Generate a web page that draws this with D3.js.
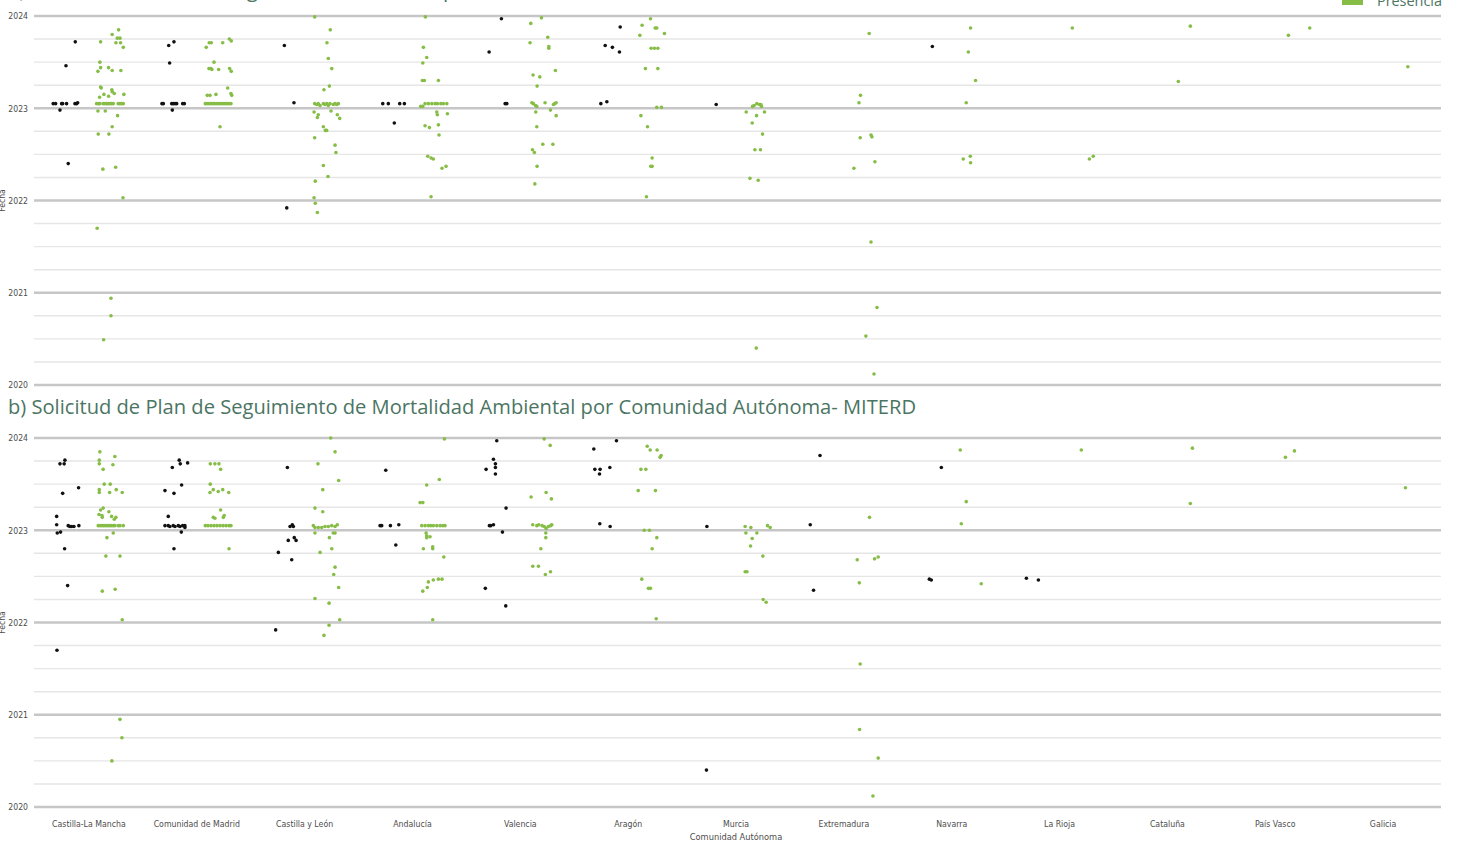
<!DOCTYPE html>
<html>
<head>
<meta charset="utf-8">
<script src="https://cdn.jsdelivr.net/npm/d3@7"></script>
<style>
  body { margin: 0; background: #fff; overflow: hidden; }
  svg { display: block; }
</style>
</head>
<body>
<div id="chart"></div>
<script>
const categories = ["Castilla-La Mancha", "Comunidad de Madrid", "Castilla y León", "Andalucía", "Valencia",
    "Aragón", "Murcia", "Extremadura", "Navarra", "La Rioja", "Cataluña", "País Vasco", "Galicia"]
const grupos = ["Ausencia", "Presencia"]
const yearTicks = [2020, 2021, 2022, 2023, 2024]
const titleA = "a) Solicitud de Plan de Seguimiento de Fauna por Comunidad Autónoma- MITERD"
const titleB = "b) Solicitud de Plan de Seguimiento de Mortalidad Ambiental por Comunidad Autónoma- MITERD"

// [categoría, fecha (año decimal), jitter -1..1]
const a_ausencia = [
    [0,2023.72,0.53],[0,2023.46,-0.09],[0,2023.05,-0.94],[0,2023.05,-0.78],[0,2023.05,-0.38],[0,2023.05,-0.31],
    [0,2023.05,-0.05],[0,2023.05,0.51],[0,2023.05,0.62],[0,2023.06,0.69],[0,2022.98,-0.49],[0,2022.40,0.06],
    [1,2023.68,-0.43],[1,2023.72,-0.08],[1,2023.49,-0.37],[1,2023.05,-0.88],[1,2023.05,-0.79],[1,2023.05,-0.23],
    [1,2023.05,-0.13],[1,2023.05,-0.01],[1,2023.05,0.10],[1,2023.05,0.50],[1,2023.05,0.61],[1,2022.98,-0.19],
    [2,2023.68,0.09],[2,2023.06,0.73],[2,2021.92,0.25],
    [3,2023.05,-0.54],[3,2023.05,-0.17],[3,2023.05,0.59],[3,2023.05,0.90],[3,2022.84,0.23],
    [4,2023.97,0.18],[4,2023.61,-0.64],[4,2023.05,0.43],[4,2023.05,0.54],
    [5,2023.88,0.91],[5,2023.68,-0.09],[5,2023.66,0.39],[5,2023.61,0.86],[5,2023.05,-0.38],[5,2023.07,0.02],
    [6,2023.04,0.12],
    [8,2023.67,0.15]
]
const a_presencia = [
    [0,2023.80,0.11],[0,2023.85,0.54],[0,2023.76,0.45],[0,2023.76,0.63],[0,2023.72,-0.66],[0,2023.71,0.36],
    [0,2023.71,0.67],[0,2023.66,0.85],[0,2023.50,-0.71],[0,2023.44,-0.66],[0,2023.40,-0.84],[0,2023.44,-0.13],
    [0,2023.41,0.11],[0,2023.41,0.69],[0,2023.23,-0.66],[0,2023.22,-0.62],[0,2023.12,-0.73],[0,2023.15,-0.44],
    [0,2023.13,-0.13],[0,2023.20,0.09],[0,2023.18,0.11],[0,2023.16,0.25],[0,2023.15,0.89],
    [0,2023.05,-0.93],[0,2023.05,-0.79],[0,2023.05,-0.71],[0,2023.05,-0.49],[0,2023.05,-0.37],[0,2023.05,-0.26],
    [0,2023.05,-0.15],[0,2023.05,-0.04],[0,2023.05,0.07],[0,2023.05,0.18],[0,2023.05,0.51],[0,2023.05,0.63],
    [0,2023.05,0.74],[0,2023.05,0.85],
    [0,2022.97,-0.84],[0,2022.97,-0.35],[0,2022.92,0.47],[0,2022.80,0.11],[0,2022.72,-0.82],[0,2022.72,-0.11],
    [0,2022.34,-0.51],[0,2022.36,0.34],[0,2022.03,0.83],[0,2021.70,-0.89],[0,2020.94,0.03],[0,2020.75,0.03],
    [0,2020.49,-0.46],
    [1,2023.66,-0.81],[1,2023.71,-0.61],[1,2023.71,-0.47],[1,2023.71,0.29],[1,2023.75,0.73],[1,2023.73,0.86],
    [1,2023.50,-0.29],[1,2023.43,-0.63],[1,2023.43,-0.49],[1,2023.42,-0.43],[1,2023.42,0.02],[1,2023.43,0.75],
    [1,2023.40,0.86],[1,2023.22,0.62],[1,2023.14,-0.74],[1,2023.14,-0.56],[1,2023.15,-0.16],[1,2023.16,0.84],
    [1,2023.14,0.89],
    [1,2023.05,-0.87],[1,2023.05,-0.76],[1,2023.05,-0.63],[1,2023.05,-0.49],[1,2023.05,-0.36],[1,2023.05,-0.23],
    [1,2023.05,-0.09],[1,2023.05,0.04],[1,2023.05,0.17],[1,2023.05,0.31],[1,2023.05,0.44],[1,2023.05,0.57],
    [1,2023.05,0.71],[1,2023.05,0.84],[1,2022.80,0.11],
    [2,2023.99,-0.77],[2,2023.85,0.27],[2,2023.71,0.05],[2,2023.54,0.14],[2,2023.43,0.37],[2,2023.24,0.21],
    [2,2023.20,-0.15],
    [2,2023.05,-0.77],[2,2023.04,-0.63],[2,2023.05,-0.53],[2,2023.03,-0.41],[2,2023.05,-0.19],[2,2023.04,-0.08],
    [2,2023.05,0.03],[2,2023.03,0.14],[2,2023.05,0.25],[2,2023.04,0.47],[2,2023.05,0.59],[2,2023.04,0.70],
    [2,2023.05,0.81],
    [2,2022.96,-0.81],[2,2022.90,-0.59],[2,2022.93,-0.53],[2,2022.97,0.32],[2,2022.93,0.74],[2,2022.89,0.90],
    [2,2022.80,-0.19],[2,2022.76,-0.06],[2,2022.76,0.03],[2,2022.68,-0.77],[2,2022.60,0.59],[2,2022.52,0.65],
    [2,2022.38,-0.19],[2,2022.26,0.12],[2,2022.21,-0.73],[2,2022.03,-0.81],[2,2021.97,-0.73],[2,2021.87,-0.59],
    [3,2023.99,-0.58],[3,2023.66,-0.71],[3,2023.55,-0.49],[3,2023.49,-0.75],[3,2023.30,-0.78],[3,2023.30,-0.65],
    [3,2023.30,0.29],
    [3,2023.02,-0.89],[3,2023.02,-0.75],[3,2023.05,-0.60],[3,2023.05,-0.38],[3,2023.05,-0.15],[3,2023.05,0.07],
    [3,2023.05,0.22],[3,2023.05,0.45],[3,2023.05,0.62],[3,2023.05,0.85],
    [3,2022.96,0.18],[3,2022.93,0.22],[3,2022.94,0.89],[3,2022.81,-0.60],[3,2022.79,-0.31],[3,2022.82,0.29],
    [3,2022.71,0.33],[3,2022.48,-0.42],[3,2022.46,-0.20],[3,2022.45,-0.05],[3,2022.35,0.53],[3,2022.37,0.80],
    [3,2022.04,-0.20],
    [4,2023.98,-0.03],[4,2023.92,-0.74],[4,2023.77,0.39],[4,2023.71,-0.79],[4,2023.67,0.46],[4,2023.65,0.46],
    [4,2023.41,0.90],[4,2023.36,-0.59],[4,2023.34,-0.14],[4,2023.24,-0.32],[4,2023.06,-0.67],[4,2023.05,-0.57],
    [4,2023.03,-0.43],[4,2023.02,-0.34],[4,2023.06,0.21],[4,2023.04,0.77],[4,2023.05,0.86],[4,2023.06,0.95],
    [4,2022.96,-0.41],[4,2022.98,0.57],[4,2022.92,0.95],[4,2022.80,-0.34],[4,2022.61,0.06],[4,2022.61,0.73],
    [4,2022.55,-0.63],[4,2022.52,-0.50],[4,2022.37,-0.32],[4,2022.18,-0.47],
    [5,2023.97,0.05],[5,2023.90,-0.51],[5,2023.87,0.36],[5,2023.87,0.47],[5,2023.81,0.98],[5,2023.79,-0.66],
    [5,2023.65,0.09],[5,2023.65,0.31],[5,2023.65,0.54],[5,2023.43,-0.29],[5,2023.43,0.54],[5,2023.01,0.47],
    [5,2023.01,0.78],[5,2022.92,-0.59],[5,2022.80,-0.15],[5,2022.46,0.16],[5,2022.37,0.07],[5,2022.37,0.16],
    [5,2022.04,-0.22],
    [6,2022.96,-0.76],[6,2023.02,-0.34],[6,2023.03,-0.23],[6,2023.05,-0.05],[6,2023.04,0.13],[6,2023.04,0.22],
    [6,2023.02,0.26],[6,2022.96,0.46],[6,2022.92,-0.07],[6,2022.84,-0.36],[6,2022.72,0.33],[6,2022.55,-0.18],
    [6,2022.55,0.19],[6,2022.24,-0.51],[6,2022.22,0.04],[6,2020.40,-0.09],
    [7,2023.81,0.25],[7,2023.14,-0.33],[7,2023.06,-0.43],[7,2022.68,-0.35],[7,2022.71,0.37],[7,2022.69,0.43],
    [7,2022.42,0.63],[7,2022.35,-0.77],[7,2021.55,0.37],[7,2020.84,0.77],[7,2020.53,0.03],[7,2020.12,0.57],
    [8,2023.87,-0.18],[8,2023.61,-0.33],[8,2023.30,0.15],[8,2023.06,-0.47],[8,2022.45,-0.67],[8,2022.48,-0.20],
    [8,2022.41,-0.18],
    [9,2023.87,-0.59],[9,2022.45,0.55],[9,2022.48,0.81],
    [10,2023.89,0.09],[10,2023.29,-0.71],
    [11,2023.79,-0.56],[11,2023.87,0.86],
    [12,2023.45,0.21]
]
const b_ausencia = [
    [0,2023.72,-0.49],[0,2023.72,-0.21],[0,2023.76,-0.16],[0,2023.40,-0.31],[0,2023.46,0.75],[0,2023.15,-0.71],
    [0,2023.06,-0.71],[0,2022.97,-0.67],[0,2022.98,-0.45],[0,2023.05,0.06],[0,2023.04,0.17],[0,2023.04,0.29],
    [0,2023.04,0.44],[0,2023.05,0.77],[0,2022.80,-0.18],[0,2022.40,0.02],[0,2021.70,-0.69],
    [1,2023.68,-0.19],[1,2023.76,0.27],[1,2023.72,0.34],[1,2023.73,0.83],[1,2023.49,0.43],[1,2023.43,-0.68],
    [1,2023.40,-0.08],[1,2023.15,-0.46],[1,2023.05,-0.68],[1,2023.05,-0.46],[1,2023.04,-0.35],[1,2023.05,-0.13],
    [1,2023.04,-0.01],[1,2023.05,0.21],[1,2023.04,0.32],[1,2023.05,0.50],[1,2023.05,0.65],[1,2023.03,0.65],
    [1,2022.98,0.41],[1,2022.80,-0.08],
    [2,2023.68,0.29],[2,2023.04,0.47],[2,2023.06,0.62],[2,2023.04,0.69],[2,2022.89,0.35],[2,2022.92,0.75],
    [2,2022.89,0.87],[2,2022.76,-0.31],[2,2022.68,0.58],[2,2021.92,-0.49],
    [3,2023.65,-0.34],[3,2023.05,-0.72],[3,2023.05,-0.61],[3,2023.05,-0.03],[3,2023.06,0.53],[3,2022.84,0.33],
    [4,2023.97,-0.13],[4,2023.77,-0.35],[4,2023.72,-0.22],[4,2023.68,-0.22],[4,2023.66,-0.84],[4,2023.61,-0.22],
    [4,2023.24,0.49],[4,2023.05,-0.62],[4,2023.05,-0.53],[4,2023.06,-0.35],[4,2022.98,0.25],[4,2022.37,-0.89],
    [4,2022.18,0.47],
    [5,2023.88,-0.85],[5,2023.97,0.66],[5,2023.66,-0.78],[5,2023.66,-0.43],[5,2023.61,-0.47],[5,2023.68,0.22],
    [5,2023.07,-0.45],[5,2023.04,0.24],
    [6,2023.04,-0.50],[6,2020.40,-0.53],
    [7,2023.81,-0.15],[7,2023.06,-0.80],[7,2022.35,-0.58],
    [8,2023.68,0.75],[8,2022.47,-0.05],[8,2022.46,0.08],
    [9,2022.48,-0.77],[9,2022.46,0.03]
]
const b_presencia = [
    [0,2023.85,-0.71],[0,2023.80,0.29],[0,2023.76,-0.75],[0,2023.72,-0.75],[0,2023.71,0.16],[0,2023.66,-0.49],
    [0,2023.50,-0.42],[0,2023.50,-0.02],[0,2023.44,-0.75],[0,2023.41,-0.75],[0,2023.41,-0.06],[0,2023.44,0.38],
    [0,2023.41,0.78],[0,2023.24,-0.49],[0,2023.22,-0.66],[0,2023.20,-0.11],[0,2023.17,-0.77],[0,2023.16,-0.57],
    [0,2023.14,-0.55],[0,2023.15,0.07],[0,2023.12,0.25],[0,2023.14,0.36],
    [0,2023.05,-0.82],[0,2023.05,-0.71],[0,2023.05,-0.59],[0,2023.05,-0.49],[0,2023.05,-0.37],[0,2023.05,-0.26],
    [0,2023.05,-0.15],[0,2023.05,-0.04],[0,2023.05,0.07],[0,2023.05,0.18],[0,2023.05,0.29],[0,2023.05,0.51],
    [0,2023.05,0.63],[0,2023.05,0.85],
    [0,2022.97,0.18],[0,2022.92,-0.24],[0,2022.72,-0.31],[0,2022.72,0.63],[0,2022.34,-0.55],[0,2022.36,0.31],
    [0,2022.03,0.78],[0,2020.95,0.63],[0,2020.75,0.76],[0,2020.50,0.09],
    [1,2023.72,-0.54],[1,2023.72,-0.23],[1,2023.72,0.04],[1,2023.66,0.15],[1,2023.50,-0.54],[1,2023.41,-0.56],
    [1,2023.44,-0.34],[1,2023.42,-0.01],[1,2023.44,0.29],[1,2023.41,0.69],[1,2023.22,0.15],[1,2023.14,-0.34],
    [1,2023.13,-0.23],[1,2023.16,0.39],[1,2023.14,0.33],
    [1,2023.05,-0.87],[1,2023.05,-0.69],[1,2023.05,-0.49],[1,2023.05,-0.29],[1,2023.05,-0.09],[1,2023.05,0.11],
    [1,2023.05,0.31],[1,2023.05,0.51],[1,2023.05,0.71],[1,2023.05,0.84],[1,2022.80,0.71],
    [2,2024.00,0.30],[2,2023.85,0.59],[2,2023.72,-0.55],[2,2023.54,0.83],[2,2023.44,-0.23],[2,2023.24,-0.75],
    [2,2023.20,-0.23],
    [2,2023.05,-0.86],[2,2023.03,-0.75],[2,2023.03,-0.53],[2,2023.03,-0.30],[2,2023.04,-0.08],[2,2023.04,0.14],
    [2,2023.05,0.37],[2,2023.04,0.59],[2,2023.06,0.74],
    [2,2022.97,-0.75],[2,2022.97,0.47],[2,2022.97,0.59],[2,2022.92,0.21],[2,2022.80,0.37],[2,2022.76,-0.41],
    [2,2022.60,0.59],[2,2022.52,0.50],[2,2022.38,0.83],[2,2022.26,-0.75],[2,2022.21,0.19],[2,2022.03,0.90],
    [2,2021.97,0.19],[2,2021.86,-0.15],
    [3,2023.99,0.69],[3,2023.55,0.35],[3,2023.49,-0.49],[3,2023.30,-0.93],[3,2023.30,-0.75],
    [3,2023.05,-0.82],[3,2023.05,-0.60],[3,2023.05,-0.38],[3,2023.05,-0.22],[3,2023.05,-0.05],[3,2023.05,0.18],
    [3,2023.05,0.40],[3,2023.05,0.58],[3,2023.05,0.73],
    [3,2022.97,-0.53],[3,2022.94,-0.49],[3,2022.93,-0.27],[3,2022.92,-0.49],[3,2022.80,-0.71],[3,2022.80,-0.09],
    [3,2022.82,-0.09],[3,2022.71,0.65],[3,2022.47,0.29],[3,2022.46,-0.05],[3,2022.47,0.53],[3,2022.44,-0.38],
    [3,2022.38,-0.45],[3,2022.34,-0.75],[3,2022.03,-0.09],
    [4,2023.99,0.15],[4,2023.92,0.55],[4,2023.36,-0.72],[4,2023.41,0.28],[4,2023.34,0.63],
    [4,2023.06,-0.61],[4,2023.05,-0.34],[4,2023.06,-0.21],[4,2023.05,0.01],[4,2023.04,0.15],[4,2023.02,0.28],
    [4,2023.04,0.43],[4,2023.05,0.59],[4,2023.06,0.66],
    [4,2022.97,0.26],[4,2022.92,0.26],[4,2022.80,-0.07],[4,2022.61,-0.61],[4,2022.61,-0.23],[4,2022.52,0.23],
    [4,2022.55,0.57],
    [5,2023.91,-0.17],[5,2023.87,0.03],[5,2023.87,0.49],[5,2023.79,0.69],[5,2023.81,0.76],[5,2023.66,-0.59],
    [5,2023.66,-0.26],[5,2023.43,-0.77],[5,2023.43,0.38],[5,2023.00,-0.37],[5,2023.00,-0.02],[5,2022.92,0.47],
    [5,2022.80,0.16],[5,2022.47,-0.53],[5,2022.37,-0.09],[5,2022.37,0.05],[5,2022.04,0.43],
    [6,2023.04,-0.83],[6,2023.03,-0.45],[6,2023.05,0.66],[6,2023.03,0.84],[6,2022.97,-0.78],[6,2022.97,-0.05],
    [6,2022.91,-0.36],[6,2022.83,-0.47],[6,2022.72,0.35],[6,2022.55,-0.83],[6,2022.55,-0.71],[6,2022.25,0.37],
    [6,2022.22,0.57],
    [7,2023.14,0.27],[7,2022.68,-0.55],[7,2022.69,0.61],[7,2022.71,0.85],[7,2022.43,-0.41],[7,2021.55,-0.35],
    [7,2020.84,-0.39],[7,2020.53,0.85],[7,2020.12,0.50],
    [8,2023.87,-0.87],[8,2023.31,-0.47],[8,2023.07,-0.80],[8,2022.42,0.53],
    [9,2023.87,0.01],
    [10,2023.89,0.23],[10,2023.29,0.09],
    [11,2023.79,-0.76],[11,2023.86,-0.16],
    [12,2023.46,0.05]
]

const width = 1478
const height = 848
const colores = {"Ausencia": "#111111", "Presencia": "#86bd47"}
const tituloColor = "#4b7563"
const axisFont = "'DejaVu Sans Condensed', 'Liberation Sans', sans-serif"
const titleFont = "'Open Sans', 'Noto Sans', sans-serif"

const svg = d3.select("#chart")
    .append("svg")
    .attr("width", width)
    .attr("height", height)

const x = d3.scaleBand()
    .domain(categories)
    .range([35, 1437])

const dodge = d3.scalePoint()
    .domain(grupos)
    .range([-21.6, 21.6])

const jitter = d3.scaleLinear()
    .domain([-1, 1])
    .range([-15, 15])

const gridX = [34, 1441]

function fitText(sel, target) {
    const w = sel.node().getComputedTextLength()
    const fs = parseFloat(sel.attr("font-size"))
    sel.attr("font-size", fs * target / w)
}

const panels = [
    {title: titleA, titleY: -3, top: 16, bottom: 385, data: {"Ausencia": a_ausencia, "Presencia": a_presencia}},
    {title: titleB, titleY: 414, top: 438, bottom: 807, data: {"Ausencia": b_ausencia, "Presencia": b_presencia}}
]

panels.forEach(p => {
    const y = d3.scaleLinear()
        .domain([2020, 2024])
        .range([p.bottom, p.top])

    const g = svg.append("g")

    // minor grid (quarters)
    const minor = d3.range(2020.25, 2024, 0.25).filter(v => v % 1 !== 0)
    g.selectAll(".minor")
        .data(minor)
        .join("line")
        .attr("x1", gridX[0])
        .attr("x2", gridX[1])
        .attr("y1", d => y(d))
        .attr("y2", d => y(d))
        .attr("stroke", "#e6e6e6")
        .attr("stroke-width", 1.4)

    g.selectAll(".major")
        .data(yearTicks)
        .join("line")
        .attr("x1", gridX[0])
        .attr("x2", gridX[1])
        .attr("y1", d => y(d))
        .attr("y2", d => y(d))
        .attr("stroke", "#c6c6c6")
        .attr("stroke-width", 2.6)

    const yAxis = d3.axisLeft(y)
        .tickValues(yearTicks)
        .tickFormat(d3.format("d"))
        .tickSize(0)
        .tickPadding(6)

    const ya = g.append("g")
        .attr("transform", `translate(${gridX[0]},0)`)
        .call(yAxis)
    ya.select(".domain").remove()
    ya.selectAll("text")
        .attr("font-family", axisFont)
        .attr("font-size", 8.6)
        .attr("fill", "#4d4d4d")

    g.append("text")
        .attr("transform", `translate(5,${(p.top + p.bottom) / 2}) rotate(-90)`)
        .attr("text-anchor", "middle")
        .attr("font-family", axisFont)
        .attr("font-size", 8.6)
        .attr("fill", "#4d4d4d")
        .text("Fecha")

    grupos.forEach(grp => {
        g.append("g")
            .selectAll("circle")
            .data(p.data[grp])
            .join("circle")
            .attr("cx", d => x(categories[d[0]]) + x.bandwidth() / 2 + dodge(grp) + jitter(d[2]))
            .attr("cy", d => y(d[1]))
            .attr("r", 1.8)
            .attr("fill", colores[grp])
    })

    const t = svg.append("text")
        .attr("x", 8)
        .attr("y", p.titleY)
        .attr("font-family", titleFont)
        .attr("font-size", 20)
        .attr("fill", tituloColor)
        .text(p.title)
    if (p.title === titleB) fitText(t, 909)
    else t.attr("font-size", 20.6)
})

// x axis (bottom panel only)
const xAxis = d3.axisBottom(x)
    .tickSize(0)
    .tickPadding(12)

const xa = svg.append("g")
    .attr("transform", "translate(0,809)")
    .call(xAxis)
xa.select(".domain").remove()
xa.selectAll("text")
    .attr("font-family", axisFont)
    .attr("font-size", 8.7)
    .attr("fill", "#4d4d4d")

svg.append("text")
    .attr("x", (x.range()[0] + x.range()[1]) / 2)
    .attr("y", 840)
    .attr("text-anchor", "middle")
    .attr("font-family", axisFont)
    .attr("font-size", 9.2)
    .attr("fill", "#4d4d4d")
    .text("Comunidad Autónoma")

// legend (mostly above the visible area)
const legend = svg.append("g")
    .attr("transform", "translate(1342,5)")

grupos.forEach((grp, i) => {
    const row = legend.append("g")
        .attr("transform", `translate(0,${(i - grupos.length + 1) * 22})`)
    row.append("rect")
        .attr("x", 0)
        .attr("y", -17)
        .attr("width", 21)
        .attr("height", 17)
        .attr("fill", colores[grp])
    const lt = row.append("text")
        .attr("x", 35)
        .attr("y", 1)
        .attr("font-family", titleFont)
        .attr("font-size", 14)
        .attr("fill", tituloColor)
        .text(grp)
    if (grp === "Presencia") fitText(lt, 65)
})
</script>
</body>
</html>
